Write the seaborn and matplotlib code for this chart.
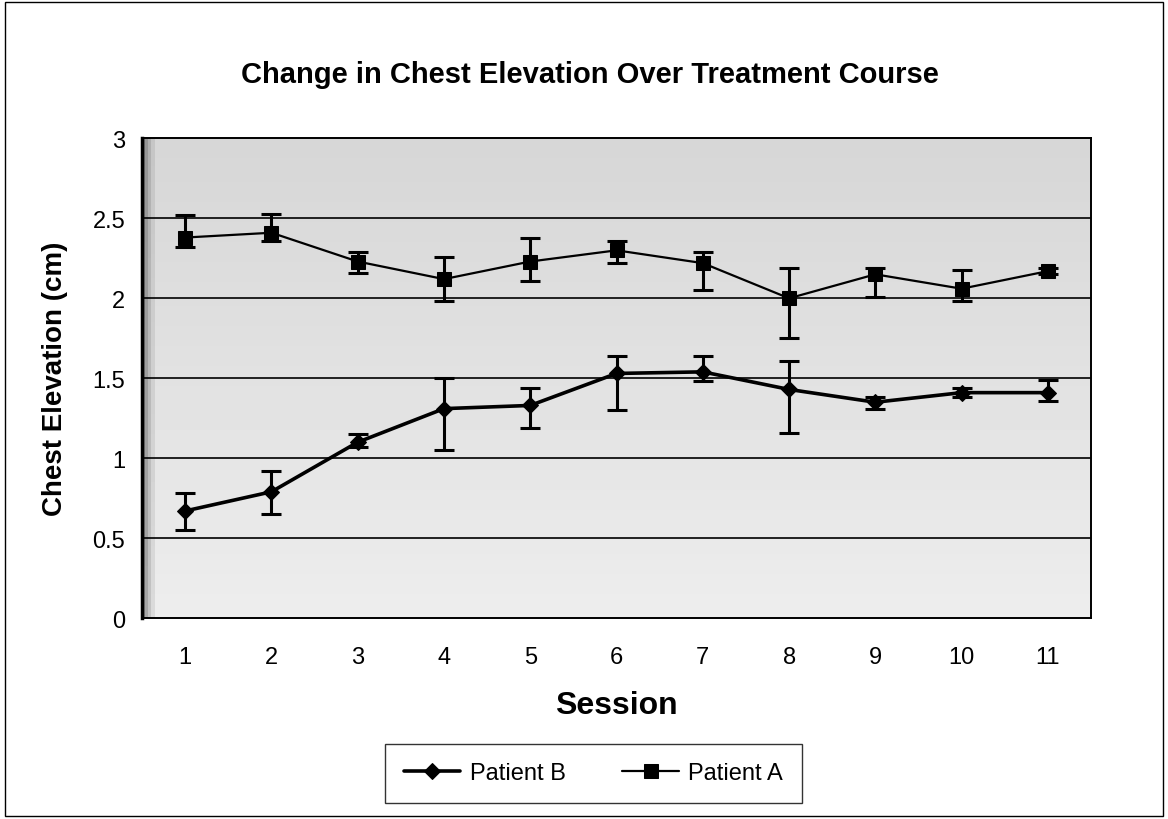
import numpy as np
import pandas as pd
import matplotlib
matplotlib.use("Agg")
import matplotlib.pyplot as plt
import seaborn as sns
from matplotlib.patches import Rectangle

# Values
sessions = [1, 2, 3, 4, 5, 6, 7, 8, 9, 10, 11]
patient_a = [2.38, 2.41, 2.23, 2.12, 2.23, 2.30, 2.22, 2.00, 2.15, 2.06, 2.17]
patient_a_hi = [2.52, 2.53, 2.29, 2.26, 2.38, 2.36, 2.29, 2.19, 2.19, 2.18, 2.19]
patient_a_lo = [2.32, 2.36, 2.16, 1.98, 2.11, 2.22, 2.05, 1.75, 2.01, 1.98, 2.15]
patient_b = [0.67, 0.79, 1.10, 1.31, 1.33, 1.53, 1.54, 1.43, 1.35, 1.41, 1.41]
patient_b_hi = [0.78, 0.92, 1.15, 1.50, 1.44, 1.64, 1.64, 1.61, 1.38, 1.44, 1.49]
patient_b_lo = [0.55, 0.65, 1.07, 1.05, 1.19, 1.30, 1.48, 1.16, 1.31, 1.38, 1.36]
y_ticks = [0, 0.5, 1, 1.5, 2, 2.5, 3]

sns.set_style('white')
plt.rcParams['font.family'] = ['Liberation Sans', 'DejaVu Sans']
plt.rcParams['text.color'] = 'black'
plt.rcParams['axes.labelcolor'] = 'black'
plt.rcParams['xtick.color'] = 'black'
plt.rcParams['ytick.color'] = 'black'

df_b = pd.DataFrame({'Session': sessions, 'Elevation': patient_b})
df_a = pd.DataFrame({'Session': sessions, 'Elevation': patient_a})

fig = plt.figure(figsize=(11.68, 8.2), dpi=100)
ax = fig.add_axes([0.1216, 0.245, 0.8125, 0.585])

# scanned-looking grey plot area, a bit darker at the top and left edge
ny, nx = 120, 300
vert = np.linspace(0.84, 0.93, ny)[:, None]
horiz = np.ones(nx)
horiz[:4] = [0.55, 0.7, 0.82, 0.92]
shade = vert * horiz[None, :]
ax.imshow(shade, cmap='gray', vmin=0, vmax=1, extent=[0, 1, 0, 1],
          transform=ax.transAxes, aspect='auto', zorder=0)

for y in y_ticks[1:-1]:
    ax.axhline(y, color='black', lw=1.2, zorder=1)

sns.lineplot(data=df_b, x='Session', y='Elevation', color='black', marker='D',
             markersize=8.5, markeredgecolor='black', lw=2.6, label='Patient B',
             ax=ax, zorder=3)
sns.lineplot(data=df_a, x='Session', y='Elevation', color='black', marker='s',
             markersize=9.5, markeredgecolor='black', lw=1.6, label='Patient A',
             ax=ax, zorder=3)

a = np.array(patient_a)
b = np.array(patient_b)
ax.errorbar(sessions, a, yerr=[a - np.array(patient_a_lo), np.array(patient_a_hi) - a],
            fmt='none', ecolor='black', elinewidth=2.2, capsize=7, capthick=2.2, zorder=4)
ax.errorbar(sessions, b, yerr=[b - np.array(patient_b_lo), np.array(patient_b_hi) - b],
            fmt='none', ecolor='black', elinewidth=2.2, capsize=7, capthick=2.2, zorder=4)

ax.set_xlim(0.5, 11.5)
ax.set_ylim(0, 3)
ax.set_yticks(y_ticks)
ax.set_yticklabels(['0', '0.5', '1', '1.5', '2', '2.5', '3'])
ax.set_xticks(np.arange(0.5, 12, 1))
ax.set_xticklabels([])
ax.set_xticks(sessions, minor=True)
ax.set_xticklabels([str(s) for s in sessions], minor=True)
ax.tick_params(axis='x', which='major', direction='out', length=6, width=1, color='black')
ax.tick_params(axis='x', which='minor', length=0, pad=20, labelsize=17)
ax.tick_params(axis='y', direction='out', length=7, width=1, color='black', pad=5, labelsize=17)
for sp in ax.spines.values():
    sp.set_color('black')
    sp.set_linewidth(1.4)
ax.spines['left'].set_linewidth(2.5)

ax.set_xlabel('Session', fontsize=23, fontweight='bold', labelpad=16)
ax.set_ylabel('Chest Elevation (cm)', fontsize=20, fontweight='bold', labelpad=18)
fig.text(0.505, 0.908, 'Change in Chest Elevation Over Treatment Course',
         ha='center', va='center', fontsize=21, fontweight='bold')

handles, labels = ax.get_legend_handles_labels()
ax.legend(handles, labels, loc='center', bbox_to_anchor=(0.508, 0.0555),
          bbox_transform=fig.transFigure, ncol=2, frameon=True, fancybox=False,
          edgecolor='black', fontsize=17, handlelength=2.4, columnspacing=2.4,
          borderpad=0.8, handletextpad=0.4)
ax.get_legend().get_frame().set_linewidth(1.0)

# outer chart border
fig.patches.append(Rectangle((0.004, 0.004), 0.992, 0.992, transform=fig.transFigure,
                             fill=False, edgecolor='black', lw=1.0))

fig.savefig('out.png', dpi=100, facecolor='white')
